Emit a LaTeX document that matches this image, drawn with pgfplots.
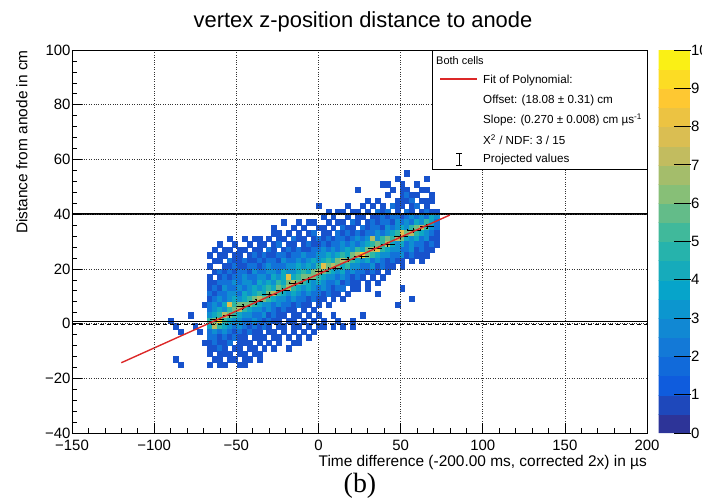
\documentclass[border=0pt]{standalone}
\usepackage{fontspec}
\setmainfont{Liberation Sans}
\newfontfamily\seriffont{Liberation Serif}
\usepackage{pgfplots}
\usepackage{pgfplotstable}
\pgfplotsset{compat=1.18}

\pgfplotsset{colormap={bird}{rgb=(0.2082,0.1664,0.5293) rgb=(0.0592,0.3599,0.8684) rgb=(0.0780,0.5041,0.8385) rgb=(0.0232,0.6419,0.7914) rgb=(0.1802,0.7178,0.6425) rgb=(0.5301,0.7492,0.4662) rgb=(0.8186,0.7328,0.3499) rgb=(0.9956,0.7862,0.1968) rgb=(0.9764,0.9832,0.0539)}}
\definecolor{fitred}{RGB}{220,40,40}

% 2D histogram: first column = bin centre in y (cm); next 55 columns = counts of the x bins centred at -90,-87,...,72
\pgfplotstableread[header=false]{
55  0 0 0 0 0  0 0 0 0 0  0 0 0 0 0  0 0 0 0 0  0 0 0 0 0  0 0 0 0 0  0 0 0 0 0  0 0 0 0 0  0 0 0 0 0  0 0 0 1 0  0 0 0 0 0
53  0 0 0 0 0  0 0 0 0 0  0 0 0 0 0  0 0 0 0 0  0 0 0 0 0  0 0 0 0 0  0 0 0 0 0  0 0 0 0 0  0 0 0 0 0  0 1 0 0 0  0 0 1 0 0
51  0 0 0 0 0  0 0 0 0 0  0 0 0 0 0  0 0 0 0 0  0 0 0 0 0  0 0 0 0 0  0 0 0 0 0  0 0 0 0 0  0 0 0 1 1  0 0 1 0 0  1 0 0 0 0
49  0 0 0 0 0  0 0 0 0 0  0 0 0 0 0  0 0 0 0 0  0 0 0 0 0  0 0 0 0 0  0 0 0 0 0  0 0 0 1 0  0 0 0 0 0  1 0 1 1 0  0 1 1 0 0
47  0 0 0 0 0  0 0 0 0 0  0 0 0 0 0  0 0 0 0 0  0 0 0 0 0  0 0 0 0 0  0 0 0 0 0  0 0 0 0 0  0 0 0 0 1  0 0 1 2 1  1 0 0 1 0
45  0 0 0 0 0  0 0 0 0 0  0 0 0 0 0  0 0 0 0 0  0 0 0 0 0  0 0 0 0 0  0 0 0 0 0  0 0 0 0 0  1 0 1 0 0  0 1 1 1 2  0 1 1 1 0
43  0 0 0 0 0  0 0 0 0 0  0 0 0 0 0  0 0 0 0 0  0 0 0 0 0  0 0 0 0 0  1 0 0 0 0  0 1 0 0 1  0 1 0 1 0  2 1 1 0 1  2 0 1 0 0
41  0 0 0 0 0  0 0 0 0 0  0 0 0 0 0  0 0 0 0 0  0 0 0 0 0  0 0 0 0 0  0 0 1 0 1  1 0 1 1 0  1 0 2 1 2  0 1 0 2 1  0 1 2 1 1
39  0 0 0 0 0  0 0 0 0 0  0 0 0 0 0  0 0 0 0 0  0 0 0 0 0  0 0 0 0 0  0 1 0 1 0  0 1 0 1 1  0 1 1 2 1  2 2 1 2 3  2 3 2 4 3
37  0 0 0 0 0  0 0 0 0 0  0 0 0 0 0  0 0 0 0 0  0 0 0 1 0  0 1 0 1 1  0 0 1 0 1  1 0 2 1 0  1 2 1 2 2  1 3 2 3 2  4 3 5 4 2
35  0 0 0 0 0  0 0 0 0 0  0 0 0 0 0  0 0 0 0 0  0 1 0 0 0  1 0 1 0 0  1 1 0 1 0  2 1 1 0 2  1 2 2 1 3  2 3 4 3 5  6 7 5 3 2
33  0 0 0 0 0  0 0 0 0 0  0 0 0 0 0  0 0 0 0 0  0 1 1 0 1  0 1 0 1 2  0 1 1 0 2  1 2 1 2 1  2 2 3 2 3  4 5 8 6 7  5 4 3 2 1
31  0 0 0 0 0  0 0 0 0 0  0 0 1 0 0  1 0 1 1 0  1 0 1 1 0  2 1 1 0 1  2 1 2 1 2  2 1 2 3 2  3 7 3 5 6  5 7 6 4 3  4 2 3 1 1
29  0 0 0 0 0  0 0 0 0 0  1 0 0 1 0  0 1 0 1 1  0 1 2 0 1  1 0 1 2 1  1 2 1 2 2  3 2 3 2 3  4 5 6 5 7  4 3 4 2 3  2 2 1 2 1
27  0 0 0 0 0  0 0 0 0 1  0 1 1 0 1  1 0 1 1 0  2 1 0 1 2  1 2 1 1 2  2 3 2 3 2  3 4 3 5 4  6 7 8 5 4  3 3 2 2 3  1 2 1 1 0
25  0 0 0 0 0  0 0 0 1 0  1 1 0 1 1  0 1 2 1 2  1 1 2 2 1  2 2 3 2 2  3 3 4 3 4  5 4 6 7 9  6 5 4 3 3  2 2 3 1 2  1 1 1 0 0
23  0 0 0 0 0  0 0 0 0 1  1 0 2 1 1  2 1 1 2 1  2 2 1 3 2  2 3 2 3 4  3 4 5 4 6  7 6 5 4 3  4 2 3 2 1  2 1 1 0 1  0 1 0 0 0
21  0 0 0 0 0  0 0 0 1 0  0 1 1 2 1  1 2 2 1 2  3 2 2 2 3  3 4 3 4 3  5 8 6 7 6  4 5 3 3 2  2 3 1 2 1  1 0 1 0 0  0 0 0 0 0
19  0 0 0 0 0  0 0 0 0 1  2 1 2 1 2  2 1 3 2 2  3 3 2 4 3  3 4 5 4 6  7 6 5 4 3  4 2 3 2 2  1 2 1 0 1  0 0 0 0 0  0 0 0 0 0
17  0 0 0 0 0  0 0 0 1 0  1 2 1 2 2  3 2 2 3 3  2 4 3 4 8  4 5 6 6 6  5 4 3 3 2  3 2 1 2 1  0 1 0 1 0  0 0 0 0 0  0 0 0 0 0
15  0 0 0 0 0  0 0 0 1 1  2 2 2 3 2  3 3 2 4 3  4 3 5 4 6  7 6 5 4 3  4 3 2 2 3  1 2 1 1 0  1 0 1 0 0  0 0 0 0 0  0 0 0 0 0
13  0 0 0 0 0  0 0 0 1 2  1 3 2 2 3  2 3 4 3 4  5 4 6 5 7  5 4 3 4 3  2 3 2 1 2  2 0 1 1 0  1 0 0 0 0  0 0 1 0 0  0 0 0 0 0
11  0 0 0 0 0  0 0 0 2 1  2 2 3 3 2  4 3 4 5 4  6 7 5 4 3  4 3 2 3 2  2 1 2 1 1  0 1 0 0 0  0 0 1 0 0  0 0 0 0 0  0 0 0 0 0
9   0 0 0 0 0  0 0 0 1 2  3 2 3 4 3  4 5 6 7 6  5 4 3 3 2  3 2 2 1 2  1 1 0 1 0  1 0 0 0 0  0 0 0 0 0  0 0 0 0 1  0 0 0 0 0
7   0 0 0 0 0  0 0 1 2 3  2 4 8 5 6  6 6 5 4 3  3 2 3 2 2  1 2 1 1 0  1 0 1 0 0  0 0 0 0 0  0 0 0 0 0  0 1 0 0 0  0 0 0 0 0
5   0 0 0 0 0  0 0 0 2 3  4 3 5 6 7  5 4 3 3 2  3 2 1 2 1  1 0 1 0 1  0 0 0 0 0  0 0 0 0 0  0 0 0 0 0  0 0 0 0 0  0 0 0 0 0
3   0 0 0 0 1  0 0 0 3 4  5 7 6 5 4  3 3 2 2 3  1 2 1 1 0  1 1 0 1 0  1 0 0 1 0  0 0 0 0 1  0 0 0 0 0  0 0 0 0 0  0 0 0 0 0
1   1 0 0 0 0  0 0 0 5 6  9 5 4 3 3  2 2 3 2 1  2 1 1 0 1  1 0 1 0 1  0 1 0 0 1  0 0 1 0 0  0 0 0 0 0  0 0 0 0 0  0 0 0 0 0
-1  0 1 0 0 0  1 0 0 4 7  5 4 3 2 3  2 1 2 1 2  1 0 1 1 0  1 1 0 1 0  1 1 0 1 0  1 0 1 0 0  0 0 0 0 0  0 0 0 0 0  0 0 0 0 0
-3  0 0 1 0 0  0 1 0 2 3  2 3 2 1 2  1 2 1 1 0  1 1 0 1 0  1 0 1 0 1  0 0 0 0 0  0 0 0 0 0  0 0 0 0 0  0 0 0 0 0  0 0 0 0 0
-5  0 0 0 0 0  0 0 0 2 2  1 2 1 2 1  1 0 1 1 1  0 1 1 0 1  0 1 0 1 0  0 0 0 0 0  0 0 0 0 0  0 0 0 0 0  0 0 0 0 0  0 0 0 0 0
-7  0 0 0 0 0  0 0 1 1 2  1 1 2 0 1  1 1 0 1 0  1 0 1 0 0  1 1 0 0 0  0 0 0 0 0  0 0 0 0 0  0 0 0 0 0  0 0 0 0 0  0 0 0 0 0
-9  0 0 0 0 0  0 0 0 1 1  2 1 0 1 1  0 1 1 0 1  0 1 0 0 1  0 0 0 0 0  0 0 0 0 0  0 0 0 0 0  0 0 0 0 0  0 0 0 0 0  0 0 0 0 0
-11 0 0 0 0 0  0 0 0 1 0  1 1 1 0 1  1 0 1 1 0  0 0 0 0 0  0 0 0 0 0  0 0 0 0 0  0 0 0 0 0  0 0 0 0 0  0 0 0 0 0  0 0 0 0 0
-13 0 1 0 0 0  0 0 0 0 1  1 0 1 1 0  1 1 0 1 0  0 0 0 0 0  0 0 0 0 0  0 0 0 0 0  0 0 0 0 0  0 0 0 0 0  0 0 0 0 0  0 0 0 0 0
-15 0 0 1 0 0  0 0 0 1 0  1 1 0 0 1  1 0 0 0 0  0 0 0 0 0  0 0 0 0 0  0 0 0 0 0  0 0 0 0 0  0 0 0 0 0  0 0 0 0 0  0 0 0 0 0
}\histdata

% projected values (mean per x slice)
\pgfplotstableread{
x   y    ex  ey
-62 1.5  4   0.8
-54 3.0  4   0.8
-46 6.2  4   0.8
-38 8.0  4   0.8
-30 10.5 4   0.8
-22 12.0 4   0.8
-14 14.8 4   0.8
-6  16.0 4   0.8
2   19.0 4   0.8
10  20.3 4   0.8
18  23.5 4   0.8
26  24.6 4   0.8
34  27.5 4   0.8
42  29.0 4   0.8
50  31.8 4   0.8
58  34.2 4   0.8
66  35.5 4   0.8
}\projdata

\begin{document}
\begin{tikzpicture}
\path[use as bounding box] (-72bp,-65bp) rectangle (630bp,433bp);
\begin{axis}[
  at={(0,0)}, anchor=south west,
  scale only axis, width=575bp, height=383bp,
  xmin=-150, xmax=200, ymin=-40, ymax=100,
  xtick={-150,-100,...,200},
  xticklabels={−150,−100,−50,0,50,100,150,200},
  ytick={-40,-20,...,100},
  yticklabels={−40,−20,0,20,40,60,80,100},
  minor x tick num=4, minor y tick num=4,
  tick align=inside, xtick pos=bottom, ytick pos=left,
  major tick length=10bp, minor tick length=5bp,
  tick style={black, line width=0.6pt},
  grid=major, grid style={black!80, dotted, line width=0.7pt},
  axis line style={black, line width=0.6pt},
  axis on top,
  clip marker paths=true,
  tick label style={font=\fontsize{15}{17}\selectfont},
  xticklabel style={yshift=-4bp},
  yticklabel style={xshift=2bp},
  xlabel={Time difference (-200.00 ms, corrected 2x) in µs},
  xlabel style={at={(axis description cs:1,-0.078)}, anchor=east, font=\fontsize{15.5}{17}\selectfont, inner sep=0pt},
  ylabel={Distance from anode in cm},
  ylabel style={at={(axis description cs:-0.087,1)}, anchor=east, font=\fontsize{15.5}{17}\selectfont, inner sep=0pt},
  colormap name=bird, point meta min=0, point meta max=10,
  colorbar sampled,
  colorbar style={
    samples=21,
    at={(parent axis.north east)}, anchor=north west, xshift=3bp,
    scale only axis, width=32bp, height=383bp,
    ytick={0,1,...,10},
    ytick pos=right, yticklabel pos=right,
    tick align=inside, major tick length=17bp,
    tick style={black, line width=0.8pt},
    axis line style={draw=none},
    axis on top,
    yticklabel style={font=\fontsize{15}{17}\selectfont, /pgf/number format/assume math mode=true, xshift=-3bp},
  },
]
\pgfplotsinvokeforeach{1,...,55}{
  \addplot[scatter, only marks, mark=square*, mark size=2.45bp,
    every mark/.append style={yscale=1.1},
    scatter src=explicit,
    scatter/@pre marker code/.code={%
      \ifdim\pgfplotspointmetatransformed pt<1pt
        \def\cellopacity{0}%
      \else
        \def\cellopacity{1}%
      \fi
      \pgfplotscolormapdefinemappedcolor{\pgfplotspointmetatransformed}%
      \scope[draw=mapped color, fill=mapped color, opacity=\cellopacity]%
    },
    scatter/@post marker code/.code={\endscope}]
    table[x expr={-93+3*#1}, y index=0, meta index=#1] {\histdata};
}
\addplot[black, line width=1.6pt] coordinates {(-150,40) (200,40)};
\addplot[black, line width=1.6pt] coordinates {(-150,0.8) (200,0.8)};
\addplot[black, line width=1.4pt, dash pattern=on 4pt off 3pt] coordinates {(-150,-0.3) (200,-0.3)};
\addplot[only marks, mark=*, mark size=0.6bp, black,
  error bars/.cd, x dir=both, x explicit, y dir=both, y explicit,
  error bar style={black, line width=0.7pt}]
  table[x=x, y=y, x error=ex, y error=ey] {\projdata};
\addplot[fitred, line width=1.4pt] coordinates {(-120,-14.32) (80,39.68)};
\end{axis}
% legend
\draw[black, line width=0.6pt, fill=white] (360bp,264bp) rectangle (575bp,383bp);
\node[anchor=west, inner sep=0pt, font=\fontsize{11}{13}\selectfont] at (364bp,372bp) {Both cells};
\draw[fitred, line width=1.4pt] (368bp,354bp) -- (405bp,354bp);
\node[anchor=west, inner sep=0pt, font=\fontsize{11.7}{13}\selectfont] at (411bp,353bp) {Fit of Polynomial:};
\node[anchor=west, inner sep=0pt, font=\fontsize{11.7}{13}\selectfont] at (411bp,333bp) {Offset: (18.08 ± 0.31) cm};
\node[anchor=west, inner sep=0pt, font=\fontsize{11.7}{13}\selectfont] at (411bp,313bp) {Slope: (0.270 ± 0.008) cm µs\textsuperscript{-1}};
\node[anchor=west, inner sep=0pt, font=\fontsize{11.7}{13}\selectfont] at (411bp,293bp) {Χ\textsuperscript{2} / NDF: 3 / 15};
\node[anchor=west, inner sep=0pt, font=\fontsize{11.7}{13}\selectfont] at (411bp,274bp) {Projected values};
\draw[black, line width=0.7pt] (387bp,268bp) -- (387bp,280bp) (384bp,268bp) -- (390bp,268bp) (384bp,280bp) -- (390bp,280bp);
% title and caption
\node[font=\fontsize{22}{24}\selectfont] at (291bp,411bp) {vertex z-position distance to anode};
\node[font=\seriffont\fontsize{28}{30}\selectfont, inner sep=1pt] at (288bp,-53bp) {(b)};
\end{tikzpicture}
\end{document}
